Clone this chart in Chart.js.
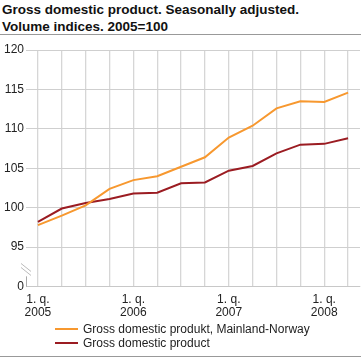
<!DOCTYPE html>
<html>
<head>
<meta charset="utf-8">
<script src="https://cdn.jsdelivr.net/npm/chart.js@4"></script>
<style>
    body { margin: 0; background: #fff; font-family: "Liberation Sans", Arial, sans-serif; }
    .wrap { position: relative; width: 363px; height: 358px; overflow: hidden; }
    .title { position: absolute; left: 2px; top: 1px; width: 361px; font-weight: bold; font-size: 13.5px; line-height: 17px; color: #111; }
    .sep_top { position: absolute; left: 0; top: 34px; width: 361px; height: 1px; background: #999; }
    .sep_bottom { position: absolute; left: 0; top: 356px; width: 361px; height: 1px; background: #999; }
    canvas { position: absolute; left: 0; top: 36px; }
    .legend { position: absolute; left: 55px; top: 322px; font-size: 12px; color: #222; }
    .legend_item { height: 14px; line-height: 14px; display: flex; align-items: center; white-space: nowrap; }
    .legend_item span { display: inline-block; width: 23px; height: 2px; margin-right: 5px; }
</style>
</head>
<body>
<div class="wrap">
    <div class="title">Gross domestic product. Seasonally adjusted.<br>Volume indices. 2005=100</div>
    <div class="sep_top"></div>
    <canvas id="myChart" width="363" height="289"></canvas>
    <div class="legend" id="legend"></div>
    <div class="sep_bottom"></div>
</div>
<script>
const quarters = ['2005K1', '2005K2', '2005K3', '2005K4', '2006K1', '2006K2', '2006K3', '2006K4',
    '2007K1', '2007K2', '2007K3', '2007K4', '2008K1', '2008K2'];
const tickLabels = [['1. q.', '2005'], '', '', '', ['1. q.', '2006'], '', '', '',
    ['1. q.', '2007'], '', '', '', ['1. q.', '2008'], ''];
const mainland = [97.8, 99.0, 100.3, 102.4, 103.5, 104.0, 105.2, 106.4, 108.9, 110.4, 112.6, 113.5, 113.4, 114.6];
const gdp = [98.2, 99.9, 100.6, 101.1, 101.8, 101.9, 103.1, 103.2, 104.7, 105.3, 106.9, 108.0, 108.1, 108.8];
const yTicks = [90, 95, 100, 105, 110, 115, 120];
const yTickText = ['0', '95', '100', '105', '110', '115', '120'];

document.addEventListener('DOMContentLoaded', () => {

    // little axis stub and the break marks between 0 and 95
    const axisBreak = {
        id: 'axisBreak',
        afterDraw(chart) {
            const ctx = chart.ctx;
            const y = chart.scales.y;
            const x0 = chart.chartArea.left;
            ctx.save();
            ctx.strokeStyle = '#aaa';
            ctx.lineWidth = 1;
            ctx.beginPath();
            ctx.moveTo(x0 + 0.5, y.getPixelForValue(91.3));
            ctx.lineTo(x0 + 0.5, y.getPixelForValue(90));
            ctx.stroke();
            const yb = y.getPixelForValue(92.3);
            ctx.strokeStyle = '#bbb';
            ctx.beginPath();
            ctx.moveTo(x0 - 5, yb - 5);
            ctx.lineTo(x0 + 5, yb + 3);
            ctx.moveTo(x0 - 5, yb - 1);
            ctx.lineTo(x0 + 5, yb + 7);
            ctx.stroke();
            ctx.restore();
        }
    };

    const ctx = document.getElementById('myChart').getContext('2d');
    const data = {
        labels: quarters,
        datasets: [{
            label: 'Gross domestic produkt, Mainland-Norway',
            data: mainland,
            borderColor: '#f7982f',
            backgroundColor: '#f7982f',
            borderWidth: 2,
            pointRadius: 0,
            tension: 0
        }, {
            label: 'Gross domestic product',
            data: gdp,
            borderColor: '#9b1c22',
            backgroundColor: '#9b1c22',
            borderWidth: 2,
            pointRadius: 0,
            tension: 0
        }]
    };

    const options = {
        responsive: false,
        animation: false,
        layout: {
            padding: { top: 14, right: 3, left: 0, bottom: 0 }
        },
        plugins: {
            legend: { display: false },
            tooltip: { enabled: false }
        },
        scales: {
            x: {
                offset: true,
                grid: {
                    color: '#d6d6d6',
                    lineWidth: 1.3,
                    drawTicks: false,
                    offset: false
                },
                border: { color: '#c8c8c8' },
                ticks: {
                    autoSkip: false,
                    maxRotation: 0,
                    padding: 6,
                    color: '#222',
                    font: { family: '"Liberation Sans", Arial, sans-serif', size: 12, lineHeight: 1.1 },
                    callback: (v, i) => tickLabels[i]
                }
            },
            y: {
                min: 90,
                max: 120,
                afterFit: (scale) => { scale.width = 26; },
                afterBuildTicks: (scale) => { scale.ticks = yTicks.map(v => ({ value: v })); },
                grid: {
                    color: '#cfcfcf',
                    drawTicks: false
                },
                border: { display: false },
                ticks: {
                    padding: 2,
                    color: '#222',
                    font: { family: '"Liberation Sans", Arial, sans-serif', size: 12 },
                    callback: (v) => yTickText[yTicks.indexOf(v)]
                }
            }
        }
    };

    const myChart = new Chart(ctx, {
        type: 'line',
        data: data,
        options: options,
        plugins: [axisBreak]
    });

    const legend = document.getElementById('legend');
    myChart.data.datasets.forEach(ds => {
        const item = document.createElement('div');
        item.className = 'legend_item';
        item.innerHTML = `<span style="background:${ds.borderColor}"></span>${ds.label}`;
        legend.appendChild(item);
    });
})
</script>
</body>
</html>
